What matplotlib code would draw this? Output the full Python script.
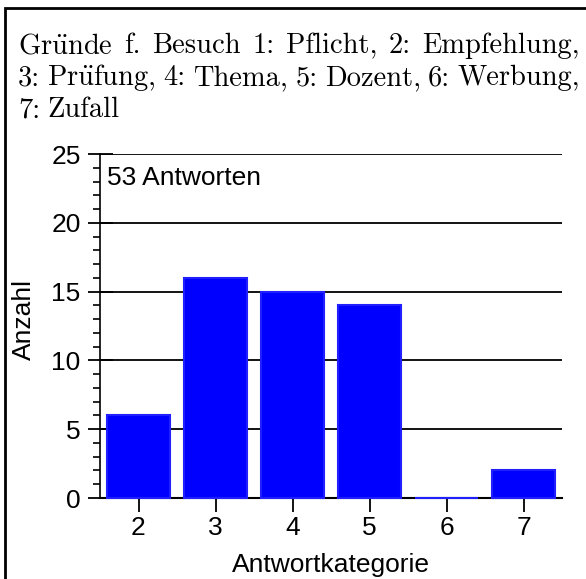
import matplotlib
matplotlib.use("Agg")
import matplotlib.pyplot as plt
from matplotlib.patches import Rectangle
from matplotlib.ticker import MultipleLocator

# data
categories = [2, 3, 4, 5, 6, 7]
counts = [6, 16, 15, 14, 0, 2]
title_lines = [
    r"Gr$\ddot{\mathrm{u}}$nde f. Besuch 1: Pflicht, 2: Empfehlung,",
    r"3: Pr$\ddot{\mathrm{u}}$fung, 4: Thema, 5: Dozent, 6: Werbung,",
    "7: Zufall",
]
note = f"{sum(counts)} Antworten"

plt.rcParams['font.family'] = ['Liberation Sans', 'DejaVu Sans']
plt.rcParams['mathtext.fontset'] = 'cm'

W, H = 586, 579
fig = plt.figure(figsize=(W / 100, H / 100), dpi=100)
ax = fig.add_axes([100/W, 1 - 498/H, 462/W, 344/H])

# frame round the figure (only top/left visible in the crop)
fig.patches.append(Rectangle((5/W, -0.5), 2, 0.5 + 1 - 8/H,
                             transform=fig.transFigure, fill=False,
                             edgecolor='black', linewidth=2.0))

ax.bar(categories, counts, width=0.83, color='#0000ff', edgecolor='#2020ff',
       linewidth=1.5, zorder=3, clip_on=False)

ax.set_xlim(1.5, 7.5)
ax.set_ylim(0, 25)
ax.set_xticks(categories)
ax.yaxis.set_major_locator(MultipleLocator(5))
ax.yaxis.set_minor_locator(MultipleLocator(1))
ax.grid(axis='y', which='major', color='black', linewidth=1.3, zorder=1)
ax.set_axisbelow(True)

for s in ['top', 'right']:
    ax.spines[s].set_visible(False)
ax.spines['left'].set_linewidth(1.2)
ax.spines['bottom'].set_linewidth(1.5)

ax.tick_params(axis='y', which='major', direction='inout', length=18, width=1.3,
               labelsize=19, pad=5)
ax.tick_params(axis='y', which='minor', direction='out', length=5, width=1.2)
ax.tick_params(axis='x', direction='out', length=10, width=1.3, labelsize=19, pad=3)

ax.set_xlabel('Antwortkategorie', fontsize=19, labelpad=9)
ax.set_ylabel('Anzahl', fontsize=19)
ax.yaxis.set_label_coords(-0.138, 0.52)

ax.text(0.015, 0.965, note, transform=ax.transAxes, fontsize=19,
        ha='left', va='top')

# title set like a justified TeX paragraph
renderer = fig.canvas.get_renderer()
x0, x1 = 18, 580
baselines = [53, 85, 117]
for i, line in enumerate(title_lines):
    words = line.split(' ')
    texts = [fig.text(0, 1 - baselines[i] / H, w, family='cmr10', fontsize=20.5,
                      ha='left', va='baseline') for w in words]
    widths = [t.get_window_extent(renderer).width for t in texts]
    if i < len(title_lines) - 1:
        gap = (x1 - x0 - sum(widths)) / (len(words) - 1)
    else:
        gap = 7
    x = x0
    for t, w in zip(texts, widths):
        t.set_x(x / W)
        x += w + gap

fig.savefig('out.png', dpi=100)
